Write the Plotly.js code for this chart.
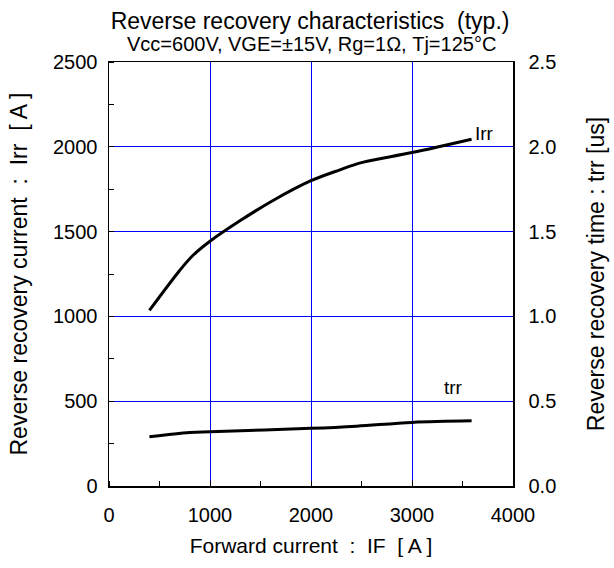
<!DOCTYPE html>
<html>
<head>
<meta charset="utf-8">
<script src="https://cdn.plot.ly/plotly-3.0.1.min.js"></script>
<style>html,body{margin:0;padding:0;background:#fff;}#chart{width:614px;height:568px;}</style>
</head>
<body>
<div id="chart"></div>
<script>
// Irr curve (left axis, A)
const irrX = [400, 700, 830, 1000, 1300, 1620, 2000, 2280, 2510, 3000, 3590];
const irrY = [1035, 1271, 1359, 1443, 1565, 1682, 1800, 1863, 1908, 1966, 2045];
// trr curve (right axis, us)
const trrX = [400, 800, 1000, 2000, 2450, 3000, 3590];
const trrY = [0.29, 0.315, 0.32, 0.34, 0.353, 0.375, 0.384];

const xTicks = [0, 1000, 2000, 3000, 4000];
const yTicks = [0, 500, 1000, 1500, 2000, 2500];
const y2Ticks = [0, 0.5, 1.0, 1.5, 2.0, 2.5];
const y2TickText = ["0.0", "0.5", "1.0", "1.5", "2.0", "2.5"];

const titleText = "Reverse recovery characteristics  (typ.)";
const subtitleText = "Vcc=600V, VGE=±15V, Rg=1Ω, Tj=125°C";
const xTitle = "Forward current  :  IF  [ A ]";
const yTitle = "Reverse recovery current  :  Irr  [ A ]";
const y2Title = "Reverse recovery time : trr [us]";
const irrLabel = {text: "Irr", x: 3722, y: 2076};
const trrLabel = {text: "trr", x: 3406, y: 582};

const FONT = "Liberation Sans, Arial, sans-serif";

const traces = [
  {x: irrX, y: irrY, type: "scatter", mode: "lines", yaxis: "y",
   line: {color: "#000", width: 3, shape: "spline"}, hoverinfo: "skip"},
  {x: trrX, y: trrY, type: "scatter", mode: "lines", yaxis: "y2",
   line: {color: "#000", width: 3, shape: "spline"}, hoverinfo: "skip"}
];

const layout = {
  width: 614, height: 568,
  margin: {l: 109, r: 101, t: 62, b: 82},
  paper_bgcolor: "#fff", plot_bgcolor: "#fff",
  showlegend: false,
  font: {family: FONT, color: "#000", size: 20},
  title: {text: titleText, font: {size: 23, family: FONT, color: "#000"},
          x: 0.505, xanchor: "center", y: 1 - 21/568, yanchor: "middle", yref: "container"},
  xaxis: {
    range: [0, 4000], tickvals: xTicks, ticktext: xTicks.map(String),
    showgrid: true, gridcolor: "#0000ff", gridwidth: 1,
    showline: true, linecolor: "#000", linewidth: 1.5, mirror: true,
    ticks: "", zeroline: false, tickfont: {size: 20}, ticklabelstandoff: 10,
    minor: {dtick: 500, tick0: 0, ticks: "inside", ticklen: 5, tickcolor: "#000", showgrid: false},
    title: {text: xTitle, font: {size: 21}, standoff: 14}
  },
  yaxis: {
    range: [0, 2500], tickvals: yTicks, ticktext: yTicks.map(String),
    showgrid: true, gridcolor: "#0000ff", gridwidth: 1,
    showline: true, linecolor: "#000", linewidth: 1.5, mirror: true,
    ticks: "", zeroline: false, tickfont: {size: 20}, ticklabelstandoff: 6,
    minor: {dtick: 250, tick0: 0, ticks: "inside", ticklen: 5, tickcolor: "#000", showgrid: false},
    title: {text: yTitle, font: {size: 23}, standoff: 19}
  },
  yaxis2: {
    range: [0, 2.5], tickvals: y2Ticks, ticktext: y2TickText,
    overlaying: "y", side: "right", showgrid: false, zeroline: false,
    showline: true, linecolor: "#000", linewidth: 1.5, ticks: "", tickfont: {size: 20},
    ticklabelstandoff: 10,
    title: {text: y2Title, font: {size: 23}, standoff: 32}
  },
  annotations: [
    {text: subtitleText, xref: "paper", yref: "paper", x: 0.5, y: 1 + (62 - 44)/424,
     xanchor: "center", yanchor: "middle", showarrow: false, font: {size: 20}},
    {text: irrLabel.text, x: irrLabel.x, y: irrLabel.y, xref: "x", yref: "y",
     showarrow: false, font: {size: 19}},
    {text: trrLabel.text, x: trrLabel.x, y: trrLabel.y, xref: "x", yref: "y",
     showarrow: false, font: {size: 19}}
  ]
};

Plotly.newPlot("chart", traces, layout, {staticPlot: true, displayModeBar: false});
</script>
</body>
</html>
